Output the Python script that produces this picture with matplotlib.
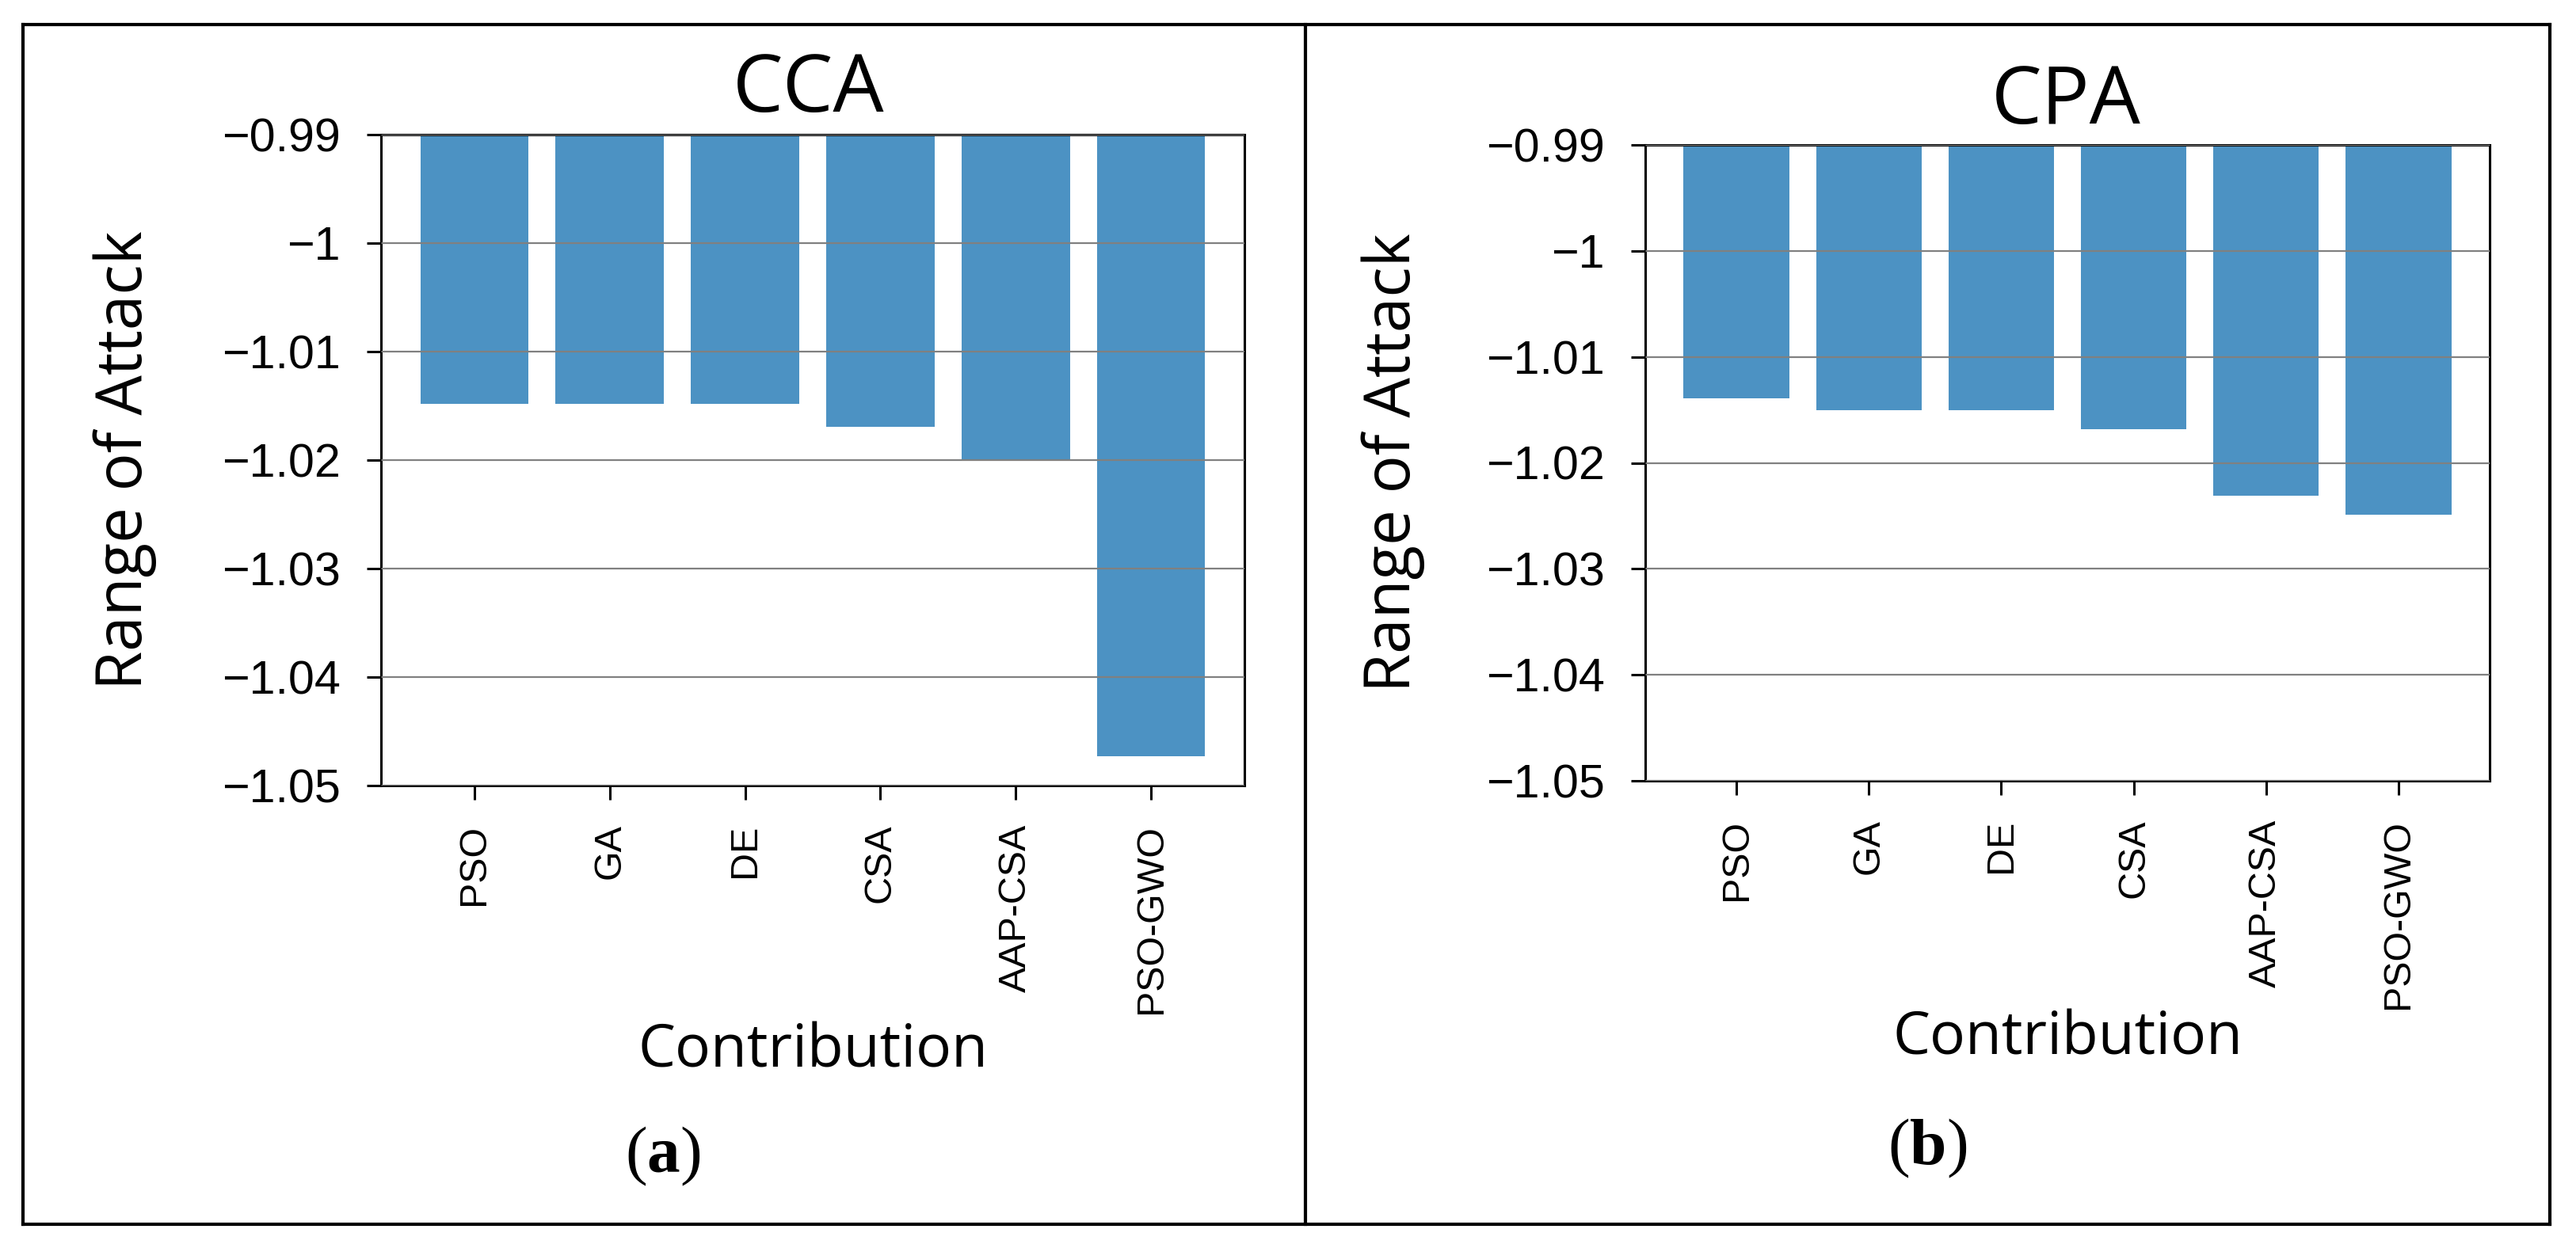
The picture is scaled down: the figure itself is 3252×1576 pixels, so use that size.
import matplotlib
matplotlib.use("Agg")
import matplotlib.pyplot as plt
from matplotlib.ticker import FixedLocator, FuncFormatter
from matplotlib.lines import Line2D

# ---- data ----
categories = ["PSO", "GA", "DE", "CSA", "AAP-CSA", "PSO-GWO"]
cca_values = [-1.0148, -1.0148, -1.0148, -1.0169, -1.0200, -1.0473]
cpa_values = [-1.0139, -1.0150, -1.0150, -1.0168, -1.0231, -1.0249]
titles = ["CCA", "CPA"]
subcaptions = ["a", "b"]
y_ticks = [-0.99, -1.0, -1.01, -1.02, -1.03, -1.04, -1.05]
y_label = "Range of Attack"
x_label = "Contribution"

W, H = 3252, 1576
DPI = 100
plt.rcParams["mathtext.fontset"] = "custom"
plt.rcParams["mathtext.bf"] = "Liberation Serif:bold"
plt.rcParams["mathtext.rm"] = "Liberation Serif"

fig = plt.figure(figsize=(W / DPI, H / DPI), dpi=DPI)
fig.patch.set_facecolor("white")
renderer = fig.canvas.get_renderer()

BAR_COLOR = "#4c92c3"
TICK_FONT = "Liberation Sans"
LABEL_FONT = "Open Sans"


def size_for(s, family, target_px):
    t = fig.text(0, 0, s, fontsize=100, fontfamily=family)
    w = t.get_window_extent(renderer).width
    t.remove()
    return 100 * target_px / w


ytick_size = size_for("\u22120.99", TICK_FONT, 150)
xtick_size = size_for("PSO-GWO", TICK_FONT, 239)
ylabel_size = size_for(y_label, LABEL_FONT, 580)
xlabel_size = size_for(x_label, LABEL_FONT, 442)
title_size = size_for("CCA", LABEL_FONT, 192)
sub_size = 60


def px_axes(x0, y0, x1, y1):
    return [x0 / W, 1 - y1 / H, (x1 - x0) / W, (y1 - y0) / H]


axes_boxes = [px_axes(481, 170, 1571, 992), px_axes(2077, 183, 3143, 986)]
series = [cca_values, cpa_values]
ylabel_x = [-0.297, -0.299]
xlabel_y = [-0.409, -0.406]
title_y = [1.0353, 1.0336]
title_x = [0.495, 0.498]

fmt = FuncFormatter(lambda v, p: f"{v:g}".replace("-", "\u2212"))

for i, (box, vals) in enumerate(zip(axes_boxes, series)):
    ax = fig.add_axes(box)
    x = list(range(len(categories)))
    ax.bar(x, vals, width=0.8, color=BAR_COLOR, zorder=1)
    ax.set_ylim(-1.05, -0.99)
    ax.yaxis.set_major_locator(FixedLocator(y_ticks))
    ax.yaxis.set_major_formatter(fmt)
    ax.set_xticks(x)
    ax.set_xticklabels(categories, rotation=90, fontfamily=TICK_FONT, fontsize=xtick_size)
    for lab in ax.get_yticklabels():
        lab.set_fontfamily(TICK_FONT)
        lab.set_fontsize(ytick_size)
    ax.grid(axis="y", color="#808080", linewidth=1.6, zorder=3)
    ax.set_axisbelow(False)
    for sp in ax.spines.values():
        sp.set_linewidth(2.2)
        sp.set_color("black")
    ax.tick_params(axis="y", length=13, width=2.2, pad=24)
    ax.tick_params(axis="x", length=13, width=2.2, pad=22)
    ax.set_ylabel(y_label, fontfamily=LABEL_FONT, fontsize=ylabel_size)
    ax.yaxis.set_label_coords(ylabel_x[i], 0.5)
    ax.yaxis.label.set_verticalalignment("center")
    ax.set_xlabel(x_label, fontfamily=LABEL_FONT, fontsize=xlabel_size)
    ax.xaxis.set_label_coords(0.5, xlabel_y[i])
    ax.xaxis.label.set_verticalalignment("center")
    ax.text(title_x[i], title_y[i], titles[i], transform=ax.transAxes,
            ha="center", va="baseline", fontfamily=LABEL_FONT, fontsize=title_size)

# subcaptions
sub_pos = [(837, 1460), (2433, 1450)]
for (px, py), s in zip(sub_pos, subcaptions):
    fig.text(px / W, 1 - py / H, "(" + r"$\mathbf{" + s + r"}$" + ")",
             ha="center", va="center", fontsize=sub_size, fontfamily="Liberation Serif")

# outer frame and divider
lw = 3.0
x0, y0, x1, y1 = 29 / W, 1 - 31 / H, 3219 / W, 1 - 1546 / H
for xs, ys in [([x0, x1], [y0, y0]), ([x0, x1], [y1, y1]), ([x0, x0], [y0, y1]),
               ([x1, x1], [y0, y1]), ([1648 / W, 1648 / W], [y0, y1])]:
    fig.add_artist(Line2D(xs, ys, color="black", linewidth=lw, transform=fig.transFigure))

fig.savefig("out.png", dpi=DPI, facecolor="white")
